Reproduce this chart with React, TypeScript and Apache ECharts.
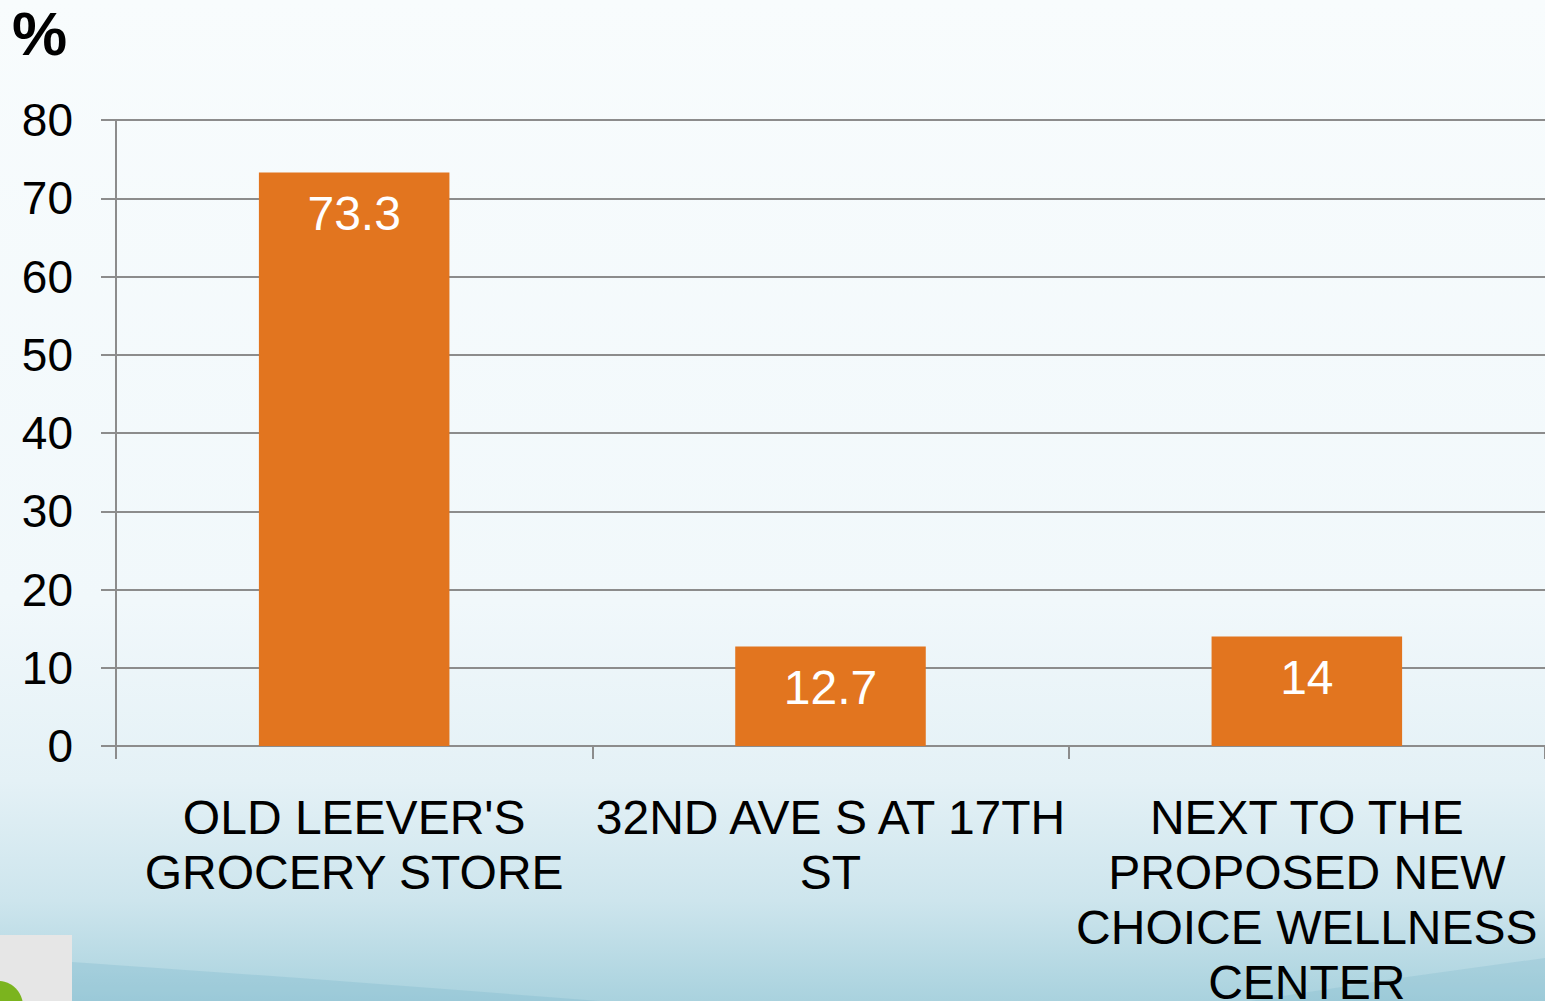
import React, { useEffect, useRef } from "react";
import * as echarts from "echarts";

const categories = [
  "OLD LEEVER'S\nGROCERY STORE",
  "32ND AVE S AT 17TH\nST",
  "NEXT TO THE\nPROPOSED NEW\nCHOICE WELLNESS\nCENTER",
];
const values = [73.3, 12.7, 14];
const yTicks = { min: 0, max: 80, interval: 10 };
const unitLabel = "%";

const FONT = "'Liberation Sans', Arial, sans-serif";

export default function App() {
  const ref = useRef<HTMLDivElement>(null);
  useEffect(() => {
    if (!ref.current) return;
    const chart = echarts.init(ref.current, undefined, { renderer: "svg" });
    chart.setOption({
      animation: false,
      backgroundColor: {
        type: "linear",
        x: 0,
        y: 0,
        x2: 0,
        y2: 1,
        colorStops: [
          { offset: 0, color: "#f8fcfd" },
          { offset: 0.6, color: "#f1f8fb" },
          { offset: 0.78, color: "#e4f1f6" },
          { offset: 0.9, color: "#cde5ed" },
          { offset: 1, color: "#a9d2de" },
        ],
      },
      graphic: [
        {
          type: "text",
          left: 12,
          top: 2,
          style: {
            text: unitLabel,
            font: `bold 62px ${FONT}`,
            fill: "#000",
          },
        },
        {
          type: "polygon",
          silent: true,
          shape: {
            points: [
              [72, 962],
              [300, 978],
              [600, 1001],
              [72, 1001],
            ],
          },
          style: { fill: "rgba(120,180,200,0.28)" },
        },
        {
          type: "polygon",
          silent: true,
          shape: {
            points: [
              [1250, 1001],
              [1400, 978],
              [1545, 958],
              [1545, 1001],
            ],
          },
          style: { fill: "rgba(120,180,200,0.25)" },
        },
        {
          type: "rect",
          silent: true,
          shape: { x: 0, y: 935, width: 72, height: 66 },
          style: { fill: "#e6e6e6" },
        },
        {
          type: "circle",
          silent: true,
          shape: { cx: -2, cy: 1006, r: 25 },
          style: { fill: "#7bb41e" },
        },
      ],
      grid: {
        left: 116,
        right: 0,
        top: 120,
        bottom: 255,
        containLabel: false,
        outerBoundsMode: "none",
      },
      xAxis: {
        type: "category",
        data: categories,
        axisLine: { show: true, lineStyle: { color: "#8c8c8c", width: 2 } },
        axisTick: { show: true, length: 13, lineStyle: { color: "#8c8c8c", width: 2 } },
        axisLabel: {
          interval: 0,
          margin: 44,
          color: "#000",
          fontSize: 48,
          lineHeight: 55,
          fontFamily: FONT,
          align: "center",
        },
      },
      yAxis: {
        type: "value",
        min: yTicks.min,
        max: yTicks.max,
        interval: yTicks.interval,
        axisLine: { show: true, lineStyle: { color: "#8c8c8c", width: 2 } },
        axisTick: { show: true, length: 15, lineStyle: { color: "#8c8c8c", width: 2 } },
        splitLine: { show: true, lineStyle: { color: "#8c8c8c", width: 2 } },
        axisLabel: {
          margin: 43,
          color: "#000",
          fontSize: 46,
          fontFamily: FONT,
        },
      },
      series: [
        {
          type: "bar",
          data: values,
          barWidth: "40%",
          itemStyle: { color: "#e2751f" },
          label: {
            show: true,
            position: "insideTop",
            distance: 17,
            color: "#fff",
            fontSize: 48,
            fontFamily: FONT,
          },
        },
      ],
    });
    return () => chart.dispose();
  }, []);
  return (
    <div
      ref={ref}
      style={{ position: "fixed", left: 0, top: 0, width: 1545, height: 1001 }}
    />
  );
}
